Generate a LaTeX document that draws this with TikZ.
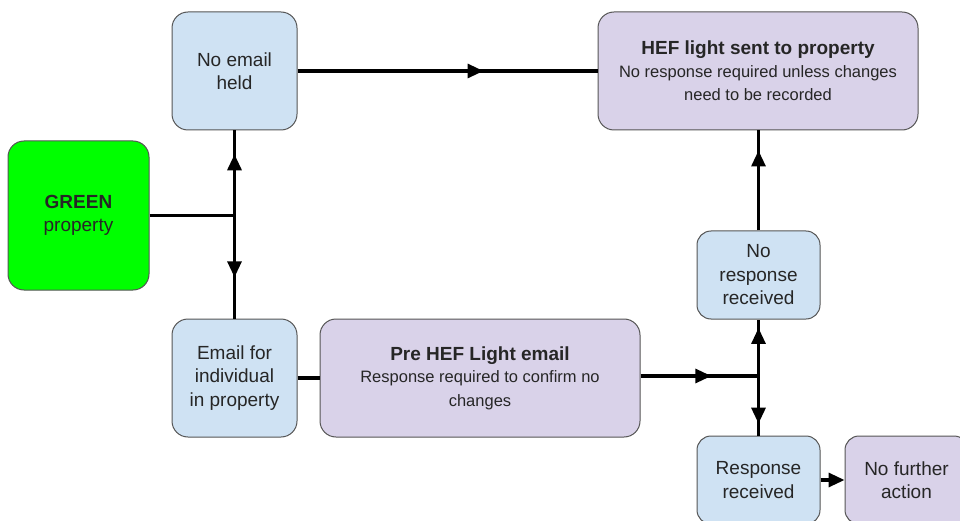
\documentclass[tikz,border=0pt]{standalone}
\usepackage{fontspec}
\setmainfont{Liberation Sans}
\usetikzlibrary{arrows.meta,decorations.markings}
\definecolor{lblue}{HTML}{CFE2F3}
\definecolor{lpurp}{HTML}{D9D2E9}
\definecolor{bgreen}{HTML}{00FF00}
\definecolor{edgegray}{HTML}{555555}
\newcommand{\subtxt}[1]{{\fontsize{16.5}{20}\selectfont #1}}
\tikzset{
  box/.style={draw=edgegray, line width=1pt, rounded corners=16pt, inner sep=0pt, align=center, text=black!85, font=\fontsize{19}{23.5}\selectfont},
  bluebox/.style={box, fill=lblue},
  purpbox/.style={box, fill=lpurp},
  conn/.style={line width=3.2pt, black},
  arrat/.style={postaction={decorate}, decoration={markings, mark=at position #1 with {\arrow{Triangle[length=16pt,width=14pt]}}}},
  tip/.style={-{Triangle[length=16pt,width=14pt]}},
}
\begin{document}
\begin{tikzpicture}[x=1pt,y=-1pt]
\useasboundingbox (0,0) rectangle (960,521);
\clip (0,0) rectangle (960,521);
\node[box, fill=bgreen, minimum width=141pt, minimum height=149pt] (green) at (78.5,215.5) {\textbf{GREEN}\\property};
\node[bluebox, minimum width=125pt, minimum height=118pt] (noemail) at (234.5,71) {No email\\held};
\node[bluebox, minimum width=125pt, minimum height=118pt] (email) at (234.5,378) {Email for\\individual\\in property};
\node[purpbox, minimum width=320pt, minimum height=118pt] (pre) at (480,378) {\textbf{Pre HEF Light email}\\[-1pt]\subtxt{Response required to confirm no}\\\subtxt{changes}};
\node[purpbox, minimum width=320pt, minimum height=118pt] (hef) at (758,71) {\textbf{HEF light sent to property}\\[-1pt]\subtxt{No response required unless changes}\\\subtxt{need to be recorded}};
\node[bluebox, rounded corners=14pt, minimum width=123pt, minimum height=88pt] (noresp) at (758.5,275) {No\\response\\received};
\node[bluebox, rounded corners=14pt, minimum width=123pt, minimum height=88pt] (resp) at (758.5,480) {Response\\received};
\node[purpbox, rounded corners=14pt, minimum width=123pt, minimum height=88pt] (nfa) at (906.5,480) {No further\\action};
\coordinate (j1) at (green.east -| noemail.south);
\coordinate (j2) at (758.5,376);
\draw[conn] (green.east) -- (j1);
\draw[conn, arrat=0.72] (j1) -- (noemail.south);
\draw[conn, arrat=0.6] (j1) -- (email.north);
\draw[conn, arrat=0.62] (noemail.east) -- (hef.west);
\draw[conn] (email.east) -- (pre.west);
\draw[conn, arrat=0.6] (pre.east |- j2) -- (j2);
\draw[conn, arrat=0.85] (j2) -- (noresp.south);
\draw[conn, arrat=0.8] (j2) -- (resp.north);
\draw[conn, arrat=0.8] (noresp.north) -- (hef.south -| noresp.north);
\draw[conn, tip] (resp.east) -- (nfa.west);
\end{tikzpicture}
\end{document}
